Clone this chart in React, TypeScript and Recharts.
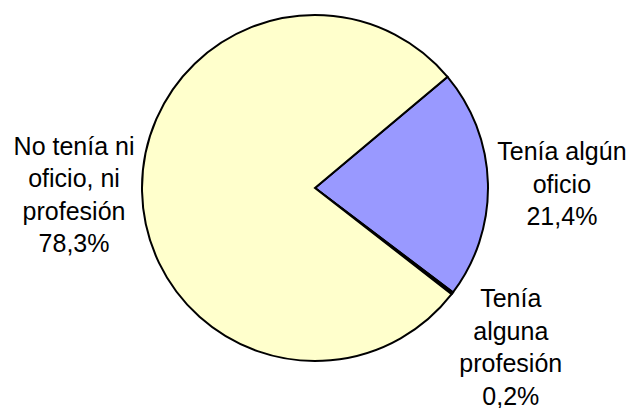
import { PieChart, Pie, Cell } from 'recharts';

const categories = ['Tenía algún oficio', 'Tenía alguna profesión', 'No tenía ni oficio, ni profesión'];
const labelLines = [['Tenía algún', 'oficio'], ['Tenía', 'alguna', 'profesión'], ['No tenía ni', 'oficio, ni', 'profesión']];
const values = [21.4, 0.2, 78.3];
const COLORS = ['#9999FF', '#993366', '#FFFFCC'];

// per-slice label distance from the centre and small nudges
const LABEL_R = [247, 253, 240];
const LABEL_NUDGE = [[0, 0], [-5, 3], [-1, 0]];
const LINE_H = 32.5;

const data = categories.map((name, i) => ({ name, value: values[i] }));

const RADIAN = Math.PI / 180;

function renderLabel(props: any) {
  const { cx, cy, midAngle, index } = props;
  const r = LABEL_R[index];
  const x = cx + r * Math.cos(-midAngle * RADIAN) + LABEL_NUDGE[index][0];
  const y = cy + r * Math.sin(-midAngle * RADIAN) + LABEL_NUDGE[index][1];
  const lines = [...labelLines[index], `${values[index].toFixed(1).replace('.', ',')}%`];
  const top = y - ((lines.length - 1) / 2) * LINE_H + 11;
  return (
    <text
      key={`label-${index}`}
      x={x}
      y={top}
      textAnchor="middle"
      fill="#000"
      fontSize={25}
      fontFamily="'Liberation Sans', Arial, sans-serif"
    >
      {lines.map((line, j) => (
        <tspan key={j} x={x} y={top + j * LINE_H}>
          {line}
        </tspan>
      ))}
    </text>
  );
}

export default function App() {
  return (
    <div style={{ position: 'absolute', left: 0, top: 0, width: 634, height: 408, background: '#fff' }}>
      <PieChart width={634} height={408} margin={{ top: 0, right: 0, bottom: 0, left: 0 }}>
        <Pie
          data={data}
          dataKey="value"
          nameKey="name"
          cx={315}
          cy={188}
          outerRadius={173}
          startAngle={40}
          endAngle={-320}
          label={renderLabel}
          labelLine={false}
          isAnimationActive={false}
        >
          {data.map((entry, index) => (
            <Cell key={`cell-${index}`} fill={COLORS[index]} stroke="#000" strokeWidth={2} />
          ))}
        </Pie>
      </PieChart>
    </div>
  );
}
